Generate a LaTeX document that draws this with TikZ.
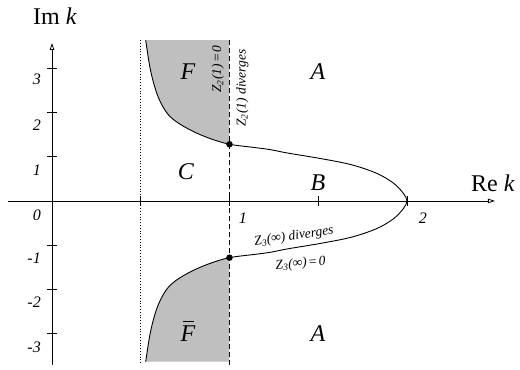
\documentclass[tikz,border=0pt]{standalone}
\usepackage{fontspec}
\setmainfont{Liberation Serif}
\usetikzlibrary{arrows.meta}
\begin{document}
\begin{tikzpicture}[x=177.5pt,y=44.3pt,
  axis/.style={line width=0.8pt,-{Triangle[open,length=7pt,width=4.5pt]}},
  tickmark/.style={line width=0.8pt},
  ticklab/.style={font=\fontsize{16}{18}\selectfont\itshape,inner sep=0pt},
  regionlab/.style={font=\fontsize{24}{26}\selectfont\itshape,inner sep=0pt},
  biglab/.style={font=\fontsize{24}{26}\selectfont,inner sep=0pt},
  smalllab/.style={font=\fontsize{13.5}{15}\selectfont\itshape,inner sep=0pt},
  curve/.style={line width=0.9pt},
  dot/.style={circle,fill=black,inner sep=0pt,minimum size=6.5pt},
  shade/.style={fill=black!25}]
\useasboundingbox (-0.293,-3.815) rectangle (2.637,4.537);
% shaded regions
\fill[shade] plot[smooth,tension=0.55] coordinates {(0.528,3.63) (0.548,3.1) (0.57,2.7) (0.60,2.33) (0.645,2.0) (0.70,1.79) (0.79,1.58) (0.89,1.41) (1,1.28)} -- (1,3.63) -- cycle;
\fill[shade] plot[smooth,tension=0.55] coordinates {(0.528,-3.63) (0.548,-3.1) (0.57,-2.7) (0.60,-2.33) (0.645,-2.0) (0.70,-1.79) (0.79,-1.58) (0.89,-1.41) (1,-1.28)} -- (1,-3.63) -- cycle;
% vertical lines
\draw[dashed,dash pattern=on 5pt off 3pt,line width=0.8pt] (1,3.63) -- (1,-3.70);
\draw[dotted,line width=0.8pt] (0.5,3.63) -- (0.5,-3.70);
% axes
\coordinate (xs) at (-0.248,0);
\coordinate (xe) at (2.496,0);
\coordinate (ys) at (0,-3.70);
\coordinate (ye) at (0,3.567);
\draw[axis] (xs) -- (xe);
\draw[axis] (ys) -- (ye);
\foreach \k in {-3,-2,-1,1,2,3}
  \draw[tickmark] ([xshift=-5pt]0,\k) -- ([xshift=5pt]0,\k);
\foreach \k in {0.5,1,1.5,2}
  \draw[tickmark] ([yshift=-5pt]\k,0) -- ([yshift=5pt]\k,0);
% curve
\draw[curve] plot[smooth,tension=0.55] coordinates {(0.528,3.63) (0.548,3.1) (0.57,2.7) (0.60,2.33) (0.645,2.0) (0.70,1.79) (0.79,1.58) (0.89,1.41) (1,1.28) (1.134,1.21) (1.228,1.16) (1.33,1.08) (1.51,0.96) (1.685,0.82) (1.829,0.625) (1.925,0.40) (1.98,0.17) (2,0) (1.98,-0.17) (1.925,-0.40) (1.829,-0.625) (1.685,-0.82) (1.51,-0.96) (1.33,-1.08) (1.228,-1.16) (1.134,-1.21) (1,-1.28) (0.89,-1.41) (0.79,-1.58) (0.70,-1.79) (0.645,-2.0) (0.60,-2.33) (0.57,-2.7) (0.548,-3.1) (0.528,-3.63)};
\node[dot] (p1) at (1,1.28) {};
\node[dot] (p2) at (1,-1.28) {};
% tick labels
\node[ticklab,anchor=east] (l3) at (-0.062,2.75) {3};
\node[ticklab,anchor=east] (l2) at (-0.062,1.72) {2};
\node[ticklab,anchor=east] (l1) at (-0.062,0.70) {1};
\node[ticklab,anchor=east] (lm1) at (-0.062,-1.29) {-1};
\node[ticklab,anchor=east] (lm2) at (-0.062,-2.28) {-2};
\node[ticklab,anchor=east] (lm3) at (-0.062,-3.30) {-3};
\node[ticklab] (l0) at (-0.085,-0.32) {0};
\node[ticklab] (x1) at (1.076,-0.38) {1};
\node[ticklab] (x2) at (2.09,-0.38) {2};
% axis labels
\node[biglab] (im) at (0.017,4.176) {Im \textit{k}};
\node[biglab] (re) at (2.485,0.406) {Re \textit{k}};
% region labels
\node[regionlab] (F) at (0.766,2.93) {F};
\node[regionlab] (A1) at (1.499,2.93) {A};
\node[regionlab] (C) at (0.755,0.655) {C};
\node[regionlab] (B) at (1.499,0.41) {B};
\node[regionlab] (Fb) at (0.766,-3.0) {F};
\draw[line width=0.8pt] ([xshift=3pt,yshift=4.5pt]Fb.north west) -- ([xshift=-1pt,yshift=4.5pt]Fb.north east);
\node[regionlab] (A2) at (1.499,-3.0) {A};
% rotated labels
\node[smalllab,rotate=90] (z20) at (0.935,2.98) {Z\textsubscript{2}(1)\,\textup{=}\,0};
\node[smalllab,rotate=90] (z2d) at (1.072,2.55) {Z\textsubscript{2}(1) diverges};
\node[smalllab,rotate=8] (z3d) at (1.363,-0.80) {Z\textsubscript{3}(∞) diverges};
\node[smalllab,rotate=5] (z30) at (1.401,-1.42) {Z\textsubscript{3}(∞)\,\textup{=}\,0};
\end{tikzpicture}
\end{document}
